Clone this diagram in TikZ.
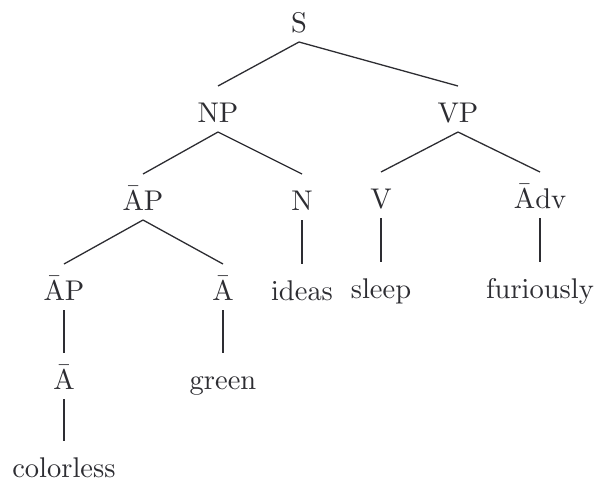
\documentclass[tikz,border=0pt]{standalone}
\definecolor{ink}{RGB}{45,45,50}
\font\treefont=cmr10 at 28.5pt
\newcommand\barA{\accent22 A}
\tikzset{
  lbl/.style={anchor=base, inner sep=0pt, font=\treefont, text=ink},
  edge/.style={line width=1.3pt, draw=ink}
}
\newcommand\tedge[2]{\draw[edge] ([yshift=-10pt]#1.base) -- ([yshift=36pt]#2.base);}
\begin{document}
\begin{tikzpicture}[x=1pt,y=-1pt]
\useasboundingbox (0,0) rectangle (596,482);
\node[lbl] (S) at (299,32) {S};
\node[lbl] (NP) at (218,122) {NP};
\node[lbl] (VP) at (458,122) {VP};
\node[lbl] (AP1) at (143,210) {\barA P};
\node[lbl] (N) at (302,210) {N};
\node[lbl] (V) at (381,208) {V};
\node[lbl] (Adv) at (540,208) {\barA dv};
\node[lbl] (AP2) at (64,300) {\barA P};
\node[lbl] (A1) at (223,300) {\barA};
\node[lbl] (ideas) at (302,300) {ideas};
\node[lbl] (sleep) at (381,298) {sleep};
\node[lbl] (fur) at (540,298) {furiously};
\node[lbl] (A2) at (64,389) {\barA};
\node[lbl] (green) at (223,389) {green};
\node[lbl] (col) at (64,477) {colorless};
\tedge{S}{NP}
\tedge{S}{VP}
\tedge{NP}{AP1}
\tedge{NP}{N}
\tedge{VP}{V}
\tedge{VP}{Adv}
\tedge{AP1}{AP2}
\tedge{AP1}{A1}
\tedge{N}{ideas}
\tedge{V}{sleep}
\tedge{Adv}{fur}
\tedge{AP2}{A2}
\tedge{A1}{green}
\tedge{A2}{col}
\end{tikzpicture}
\end{document}
